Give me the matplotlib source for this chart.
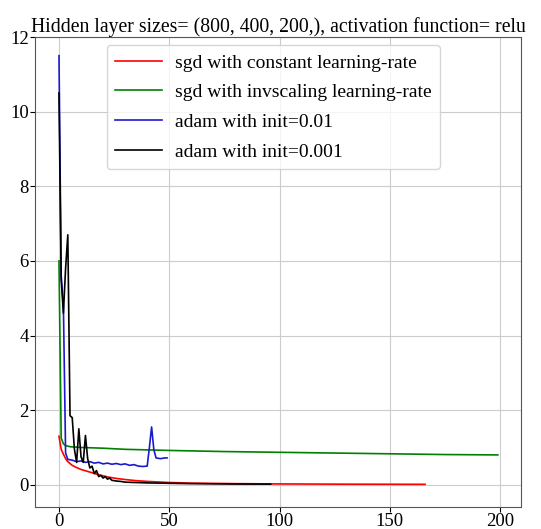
import matplotlib
matplotlib.use("Agg")
import matplotlib.pyplot as plt

plt.rcParams['font.family'] = ['Liberation Serif', 'DejaVu Serif']

# loss curves, as (epoch, loss) sample points
red_x = [0, 1, 2, 3, 4, 6, 8, 10, 14, 18, 22, 26, 30, 35, 40, 50, 60, 80, 100, 130, 166]
red_y = [1.30, 0.95, 0.82, 0.70, 0.62, 0.52, 0.46, 0.41, 0.34, 0.27, 0.21, 0.17, 0.14, 0.11, 0.09, 0.06, 0.045, 0.03, 0.022, 0.016, 0.012]

green_x = [0, 1, 2, 3, 5, 10, 20, 30, 50, 75, 100, 125, 150, 175, 199]
green_y = [6.0, 1.25, 1.10, 1.05, 1.02, 1.00, 0.98, 0.95, 0.92, 0.89, 0.87, 0.85, 0.83, 0.81, 0.80]

blue_x = [0, 1, 2, 3, 4, 6, 8, 10, 12, 14, 16, 18, 20, 22, 24, 26, 28, 30, 32, 34, 36, 38, 40, 41, 42, 43, 44, 46, 48, 49]
blue_y = [11.5, 5.6, 4.8, 0.85, 0.68, 0.66, 0.62, 0.64, 0.60, 0.62, 0.58, 0.60, 0.56, 0.58, 0.55, 0.57, 0.54, 0.56, 0.52, 0.54, 0.50, 0.49, 0.50, 1.00, 1.55, 0.95, 0.72, 0.70, 0.72, 0.72]

black_x = [0, 1, 2, 3, 4, 5, 6, 7, 8, 9, 10, 11, 12, 13, 14, 15, 16, 17, 18, 19, 20, 21, 22, 23, 24, 26, 28, 30, 35, 40, 50, 60, 70, 80, 96]
black_y = [10.5, 5.5, 4.6, 5.8, 6.7, 1.85, 1.80, 0.95, 0.60, 1.50, 0.75, 0.60, 1.32, 0.70, 0.45, 0.50, 0.30, 0.38, 0.22, 0.25, 0.18, 0.22, 0.15, 0.18, 0.12, 0.10, 0.09, 0.07, 0.06, 0.05, 0.04, 0.03, 0.025, 0.02, 0.018]

labels = ['sgd with constant learning-rate', 'sgd with invscaling learning-rate',
          'adam with init=0.01', 'adam with init=0.001']

fig = plt.figure(figsize=(5.41, 5.29), dpi=100)
ax = fig.add_axes([0.065, 0.042, 0.898, 0.888])

ax.plot(red_x, red_y, color='red', lw=1.2, label=labels[0])
ax.plot(green_x, green_y, color='green', lw=1.2, label=labels[1])
ax.plot(blue_x, blue_y, color='#1a1acc', lw=1.2, label=labels[2])
ax.plot(black_x, black_y, color='black', lw=1.2, label=labels[3])

ax.set_xlim(-10.8, 209.5)
ax.set_ylim(-0.59, 12)
ax.set_xticks([0, 50, 100, 150, 200])
ax.set_yticks([0, 2, 4, 6, 8, 10, 12])
ax.tick_params(labelsize=13.5, pad=1)
ax.grid(True, color='#cccccc', lw=0.8)
for s in ax.spines.values():
    s.set_color('#555555')

ax.set_title('Hidden layer sizes= (800, 400, 200,), activation function= relu',
             fontsize=14.2, pad=0)
ax.legend(loc='upper center', fontsize=14, bbox_to_anchor=(0.49, 0.995),
          handlelength=2.4, handletextpad=0.65, borderpad=0.45,
          borderaxespad=0.3, labelspacing=0.62)

fig.savefig('out.png', dpi=100)
